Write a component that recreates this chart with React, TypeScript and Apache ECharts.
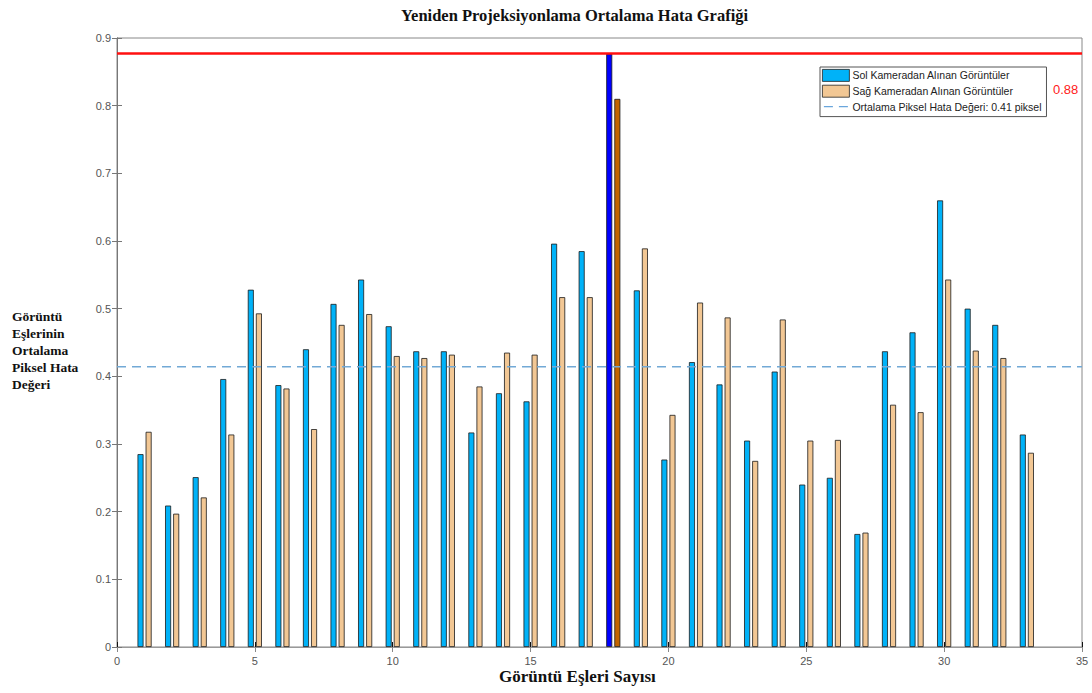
import React, { useEffect, useRef } from "react";
import * as echarts from "echarts";

const pairs = [1,2,3,4,5,6,7,8,9,10,11,12,13,14,15,16,17,18,19,20,21,22,23,24,25,26,27,28,29,30,31,32,33];
const leftCam = [0.285,0.209,0.251,0.396,0.528,0.387,0.44,0.507,0.543,0.474,0.437,0.437,0.317,0.375,0.363,0.596,0.585,0.877,0.527,0.277,0.421,0.388,0.305,0.407,0.24,0.25,0.167,0.437,0.465,0.66,0.5,0.476,0.314];
const rightCam = [0.318,0.197,0.221,0.314,0.493,0.382,0.322,0.476,0.492,0.43,0.427,0.432,0.385,0.435,0.432,0.517,0.517,0.81,0.589,0.343,0.509,0.487,0.275,0.484,0.305,0.306,0.169,0.358,0.347,0.543,0.438,0.427,0.287];
const meanError = 0.414;
const maxError = 0.877;
const highlightPair = 18;
const xTicks = { min: 0, max: 35, interval: 5 };
const yTicks = { min: 0, max: 0.9, interval: 0.1 };

const nameLeft = "Sol Kameradan Alınan Görüntüler";
const nameRight = "Sağ Kameradan Alınan Görüntüler";
const nameMean = "Ortalama Piksel Hata Değeri: 0.41 piksel";

export default function App() {
  const ref = useRef<HTMLDivElement>(null);
  useEffect(() => {
    if (!ref.current) return;
    const chart = echarts.init(ref.current, undefined, { renderer: "svg" });
    const serif = "'Liberation Serif', 'DejaVu Serif', serif";
    const sans = "'Liberation Sans', Arial, sans-serif";
    const tickLabel = { fontFamily: sans, fontSize: 11, color: "#555" };
    const mkBar = (vals: number[], hi: string) =>
      vals.map((v, i) =>
        pairs[i] === highlightPair
          ? { value: [pairs[i], v], itemStyle: { color: hi } }
          : { value: [pairs[i], v] }
      );
    const dashIcon = "path://M0,0 L0,0 Z M1,5.3 H10 V6.7 H1 Z M16,5.3 H25 V6.7 H16 Z M26,12 L26,12 Z";
    chart.setOption({
      animation: false,
      title: {
        text: "Yeniden Projeksiyonlama Ortalama Hata Grafiği",
        left: 396,
        top: 2,
        textStyle: { fontFamily: serif, fontSize: 16.5, fontWeight: "bold", color: "#111" },
      },
      grid: { left: 117, right: 10, top: 38, bottom: 46, show: true, borderColor: "#888", borderWidth: 1 },
      legend: {
        data: [
          { name: nameLeft, icon: "rect" },
          { name: nameRight, icon: "rect" },
          { name: nameMean, icon: dashIcon, itemStyle: { color: "#6aa6dc", borderWidth: 0 } },
        ],
        orient: "vertical",
        left: 820,
        top: 67,
        padding: [2, 5, 4, 2],
        itemGap: 3,
        itemWidth: 27,
        itemHeight: 12,
        borderColor: "#555",
        borderWidth: 1,
        backgroundColor: "#fff",
        itemStyle: { borderWidth: 0.8, borderColor: "#222" },
        textStyle: { fontFamily: sans, fontSize: 10.5, color: "#222", padding: [0, 0, 0, -2] },
      },
      xAxis: [
        {
          type: "value", ...xTicks, position: "bottom",
          axisLine: { show: true, lineStyle: { color: "#777" } },
          axisTick: { show: true, inside: true, length: 5, lineStyle: { color: "#111" } },
          axisLabel: { ...tickLabel, margin: 8 },
          splitLine: { show: false },
        },
        {
          type: "value", ...xTicks, position: "top",
          axisLine: { show: true, lineStyle: { color: "#999" } },
          axisTick: { show: true, inside: true, length: 5, lineStyle: { color: "#888" } },
          axisLabel: { show: false },
          splitLine: { show: false },
        },
      ],
      yAxis: [
        {
          type: "value", ...yTicks, position: "left",
          axisLine: { show: true, lineStyle: { color: "#777" } },
          axisTick: { show: true, inside: true, length: 5, lineStyle: { color: "#777" } },
          axisLabel: { ...tickLabel, margin: 6, formatter: (v: number) => String(+v.toFixed(1)) },
          splitLine: { show: false },
        },
        {
          type: "value", ...yTicks, position: "right",
          axisLine: { show: true, lineStyle: { color: "#777" } },
          axisTick: { show: true, inside: true, length: 5, lineStyle: { color: "#777" } },
          axisLabel: { show: false },
          splitLine: { show: false },
        },
      ],
      series: [
        {
          name: nameLeft, type: "bar", xAxisIndex: 0, yAxisIndex: 0,
          barWidth: 6, barGap: "35%",
          itemStyle: { color: "#00b2f8", borderColor: "#1a1a1a", borderWidth: 0.8 },
          data: mkBar(leftCam, "#0000ff"),
        },
        {
          name: nameRight, type: "bar", xAxisIndex: 0, yAxisIndex: 0,
          barWidth: 6, barGap: "35%",
          itemStyle: { color: "#f2c794", borderColor: "#1a1a1a", borderWidth: 0.8 },
          data: mkBar(rightCam, "#c26400"),
        },
        {
          name: nameMean, type: "line", xAxisIndex: 0, yAxisIndex: 0,
          symbol: "none", silent: true,
          lineStyle: { color: "#72a9d6", width: 1.5, type: [9, 6] },
          itemStyle: { color: "#72a9d6" },
          data: [[xTicks.min, meanError], [xTicks.max, meanError]],
          z: 5,
        },
        {
          name: "max", type: "line", xAxisIndex: 0, yAxisIndex: 0,
          symbol: "none", silent: true,
          lineStyle: { color: "#ff1010", width: 2.5 },
          data: [[xTicks.min, maxError], [xTicks.max, maxError]],
          z: 6,
        },
      ],
      graphic: [
        {
          type: "text", left: 1053, top: 83, z: 100,
          style: { text: maxError.toFixed(2), fontFamily: sans, fontSize: 13, fill: "#ff2020" },
        },
        {
          type: "text", left: 499, top: 668,
          style: { text: "Görüntü Eşleri Sayısı", fontFamily: serif, fontSize: 17, fontWeight: "bold", fill: "#111" },
        },
        {
          type: "text", left: 12, top: 308,
          style: {
            text: "Görüntü\nEşlerinin\nOrtalama\nPiksel Hata\nDeğeri",
            fontFamily: serif, fontSize: 13.5, fontWeight: "bold", fill: "#111", lineHeight: 17,
          },
        },
      ],
    });
    return () => chart.dispose();
  }, []);
  return <div ref={ref} style={{ position: "fixed", left: 0, top: 0, width: 1092, height: 693, background: "#fff" }} />;
}
